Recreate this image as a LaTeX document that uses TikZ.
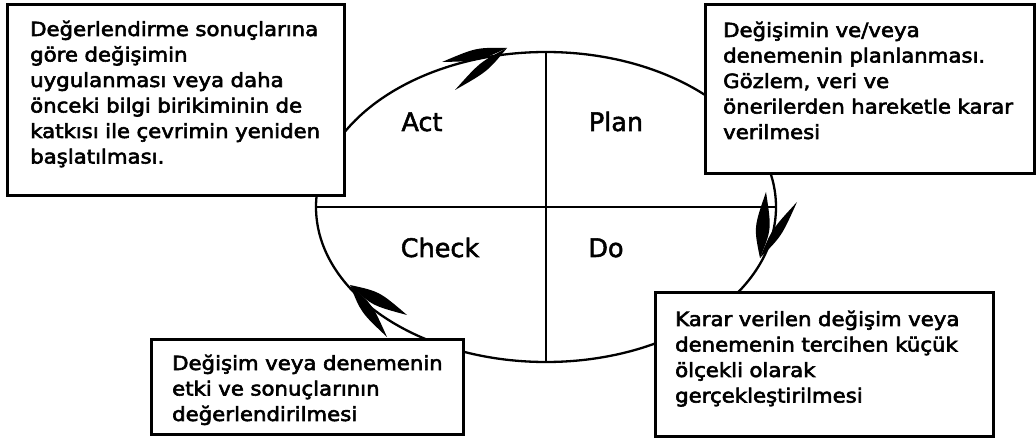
\documentclass[tikz,border=0pt]{standalone}
\usepackage{fontspec}
\setmainfont{DejaVu Sans}
\newfontfamily\boxfont{DejaVu Sans}[FakeStretch=1.09,FakeBold=3]
\newfontfamily\quadfont{DejaVu Sans}[FakeBold=2]
\usetikzlibrary{shapes.geometric,calc}

\tikzset{
  frame/.style={draw, line width=2.6pt, fill=white, rectangle, inner sep=0pt, anchor=north west},
  note/.style={anchor=base west, inner sep=0pt, align=left, text width=#1,
    font=\boxfont\fontsize{19.5}{25.5}\selectfont},
  quad/.style={anchor=base, inner sep=0pt, font=\quadfont\fontsize{25.5}{30}\selectfont},
  ring/.style={draw, ellipse, line width=2.3pt, inner sep=0pt},
  axis/.style={line width=2.5pt},
}

% tapered hand-drawn stroke from a tip #1 to an end #2, widest (#3) in the middle
\newcommand\drawbarb[3]{%
  \fill (#1) .. controls ($(#1)!0.45!(#2)!#3!90:(#2)$) .. (#2)
             .. controls ($(#1)!0.45!(#2)!#3!-90:(#2)$) .. (#1) -- cycle;}

\begin{document}
\begin{tikzpicture}[x=1pt, y=-1pt]
  \useasboundingbox (0,0) rectangle (1036,438);

  % the cycle and its four quarters
  \node[ring, minimum width=460pt, minimum height=310pt] (cyc) at (546,207) {};
  \draw[axis] (cyc.west) -- (cyc.east);
  \draw[axis] (cyc.north) -- (cyc.south);

  \node[quad] (act)   at (422,131) {Act};
  \node[quad] (plan)  at (616,131) {Plan};
  \node[quad] (check) at (440,257) {Check};
  \node[quad] (do)    at (606,257) {Do};

  % explanation boxes
  \node[frame, minimum width=337pt, minimum height=191pt] (actbox)   at (6,3) {};
  \node[frame, minimum width=329pt, minimum height=169pt] (planbox)  at (704,3) {};
  \node[frame, minimum width=338pt, minimum height=144pt] (dobox)    at (654,291) {};
  \node[frame, minimum width=312pt, minimum height=95pt]  (checkbox) at (150,338) {};

  \node[note=312pt] (acttext) at (30,36)
    {Değerlendirme sonuçlarına\\ göre değişimin\\ uygulanması veya daha\\
     önceki bilgi birikiminin de\\ katkısı ile çevrimin yeniden\\ başlatılması.};
  \node[note=307pt] (plantext) at (723,37)
    {Değişimin ve/veya\\ denemenin planlanması.\\ Gözlem, veri ve\\
     önerilerden hareketle karar\\ verilmesi};
  \node[note=312pt] (dotext) at (675,326)
    {Karar verilen değişim veya\\ denemenin tercihen küçük\\ ölçekli olarak\\
     gerçekleştirilmesi};
  \node[note=288pt] (checktext) at (172,370)
    {Değişim veya denemenin\\ etki ve sonuçlarının\\ değerlendirilmesi};

  % arrowheads on the cycle
  \coordinate (tipact) at (507,48);
  \coordinate (actA) at (442,62);
  \coordinate (actB) at (455,90);
  \coordinate (tipplan) at (760,258);
  \coordinate (planA) at (766,192);
  \coordinate (planB) at (797,202);
  \coordinate (tipcheck) at (350,285);
  \coordinate (checkA) at (407,315);
  \coordinate (checkB) at (387,337);

  \drawbarb{tipact}{actA}{7pt}
  \drawbarb{tipact}{actB}{6pt}
  \drawbarb{tipplan}{planA}{9pt}
  \drawbarb{tipplan}{planB}{6pt}
  \drawbarb{tipcheck}{checkA}{8pt}
  \drawbarb{tipcheck}{checkB}{7pt}
\end{tikzpicture}
\end{document}
